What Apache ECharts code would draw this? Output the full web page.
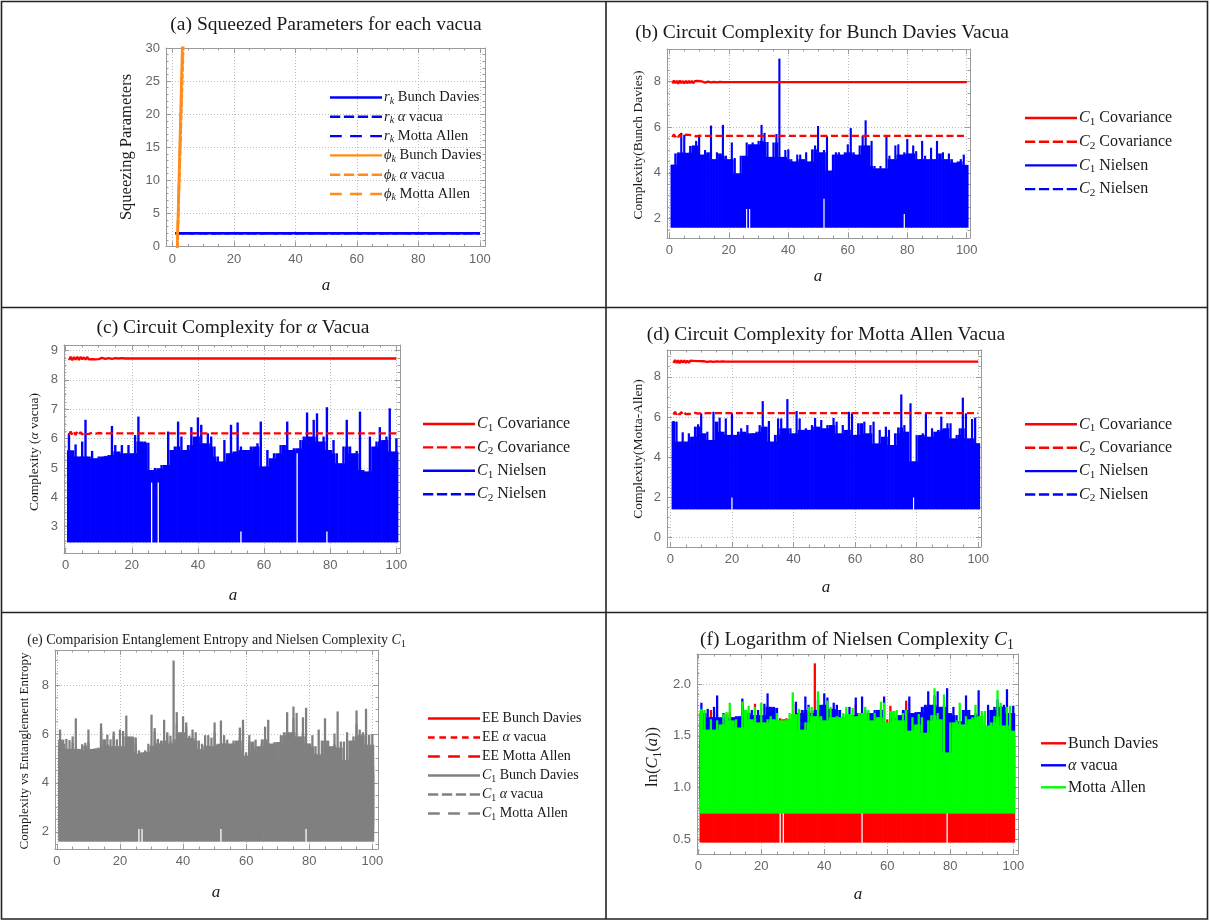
<!DOCTYPE html>
<html><head><meta charset="utf-8">
<script src="https://cdn.jsdelivr.net/npm/echarts@6/dist/echarts.min.js"></script>
<style>html,body{margin:0;padding:0;background:#fff}#c{width:1210px;height:921px}</style>
</head><body><div id="c"></div>
<script>
// ---------------- data ----------------
const aGrid = Array.from({length: 100}, (_, i) => i + 1);   // a = 1..100

// (a) squeezing parameters
const rkA = [1, 25, 50, 75, 100];
const rkBD = [2.0, 2.0, 2.0, 2.0, 2.0];
const rkAV = [2.0, 2.0, 2.0, 2.0, 2.0];
const rkMA = [2.0, 2.0, 2.0, 2.0, 2.0];
const phiA = [1, 2, 3, 4];
const phiBD = [-10.3, 8.1, 26.5, 44.9];
const phiAV = [-9.5, 6.3, 22.1, 37.9];
const phiMA = [-9.9, 7.0, 23.9, 40.8];

// covariance complexities (noisy for small a, then flat)
const covA1 = [1,1.5,2,2.5,3,3.5,4,4.5,5,5.5,6,6.5,7,7.5,8,8.5,9,9.5,10,11,12,13,14,15,16,17,18,19,20,100];
const covA2 = [1,1.5,2,2.5,3,3.5,4,4.5,5,5.5,6,6.5,7,8,9,10,11,12,100];
const bdC1Cov = [7.91,8.04,7.92,8.03,7.9,8.04,7.93,8.02,7.91,8.03,7.92,8.02,7.93,8.03,7.92,8.01,7.93,8.02,7.94,8.0,7.95,7.99,7.96,7.98,7.96,7.98,7.97,7.97,7.97,7.97];
const bdC2Cov = [5.57,5.68,5.58,5.67,5.56,5.68,5.59,5.66,5.57,5.67,5.59,5.66,5.6,5.64,5.6,5.63,5.61,5.62,5.62];
const avC1Cov = [8.68,8.79,8.67,8.78,8.69,8.79,8.68,8.78,8.7,8.77,8.69,8.78,8.7,8.76,8.71,8.76,8.7,8.75,8.71,8.75,8.72,8.74,8.72,8.74,8.73,8.74,8.73,8.73,8.73,8.73];
const avC2Cov = [6.13,6.24,6.14,6.23,6.12,6.24,6.15,6.22,6.14,6.22,6.15,6.21,6.16,6.2,6.17,6.19,6.18,6.18,6.18];
const maC1Cov = [8.68,8.83,8.69,8.82,8.67,8.82,8.7,8.81,8.69,8.8,8.7,8.8,8.71,8.79,8.72,8.78,8.72,8.78,8.73,8.77,8.74,8.76,8.74,8.76,8.75,8.76,8.75,8.75,8.75,8.75];
const maC2Cov = [6.12,6.26,6.13,6.25,6.12,6.25,6.14,6.24,6.14,6.23,6.15,6.22,6.16,6.21,6.17,6.2,6.18,6.19,6.19];

// Nielsen C1: upper envelope of the fast oscillation at each a
const bdUpper = [4.36,4.85,4.9,5.75,5.66,4.88,5.18,5.2,5.4,5.66,
 4.8,5.0,4.9,6.07,4.6,4.9,4.85,6.1,4.75,4.6,
 5.33,4.65,3.98,4.75,4.75,5.33,5.25,5.33,5.25,5.4,
 6.1,5.75,5.35,4.7,5.33,5.7,9.0,4.7,5.0,5.03,
 4.6,4.5,4.8,4.8,4.6,4.9,4.5,5.03,5.2,6.05,
 4.9,5.0,5.6,4.1,4.8,4.9,4.9,4.8,4.9,5.25,
 5.96,4.9,4.8,5.2,5.63,6.3,5.2,5.4,4.3,4.2,
 4.3,4.2,5.63,4.75,4.6,5.2,5.25,4.8,4.9,5.48,
 4.85,5.2,4.95,4.6,5.4,4.75,4.6,5.1,4.6,5.4,
 4.85,4.9,4.6,4.85,4.6,4.45,4.5,4.6,4.8,4.35];
const avUpper = [6.18,5.6,5.8,5.39,5.9,6.64,5.39,5.58,5.33,5.39,
 5.39,5.41,5.44,6.43,5.78,5.56,5.78,5.5,5.78,5.5,
 6.12,6.75,5.9,5.9,5.86,4.93,5.0,4.99,5.1,5.1,
 6.24,5.61,5.73,6.58,6.07,5.61,5.78,6.39,6.07,6.72,
 6.47,5.84,6.18,6.07,5.73,5.39,5.22,5.95,5.5,6.47,
 5.56,6.55,5.73,5.61,5.61,5.73,5.73,5.84,6.58,5.05,
 5.61,5.33,5.5,5.5,5.78,5.78,6.58,5.61,5.67,5.67,
 5.95,6.07,6.89,6.07,6.64,6.86,5.9,6.07,7.07,5.61,
 5.95,5.5,5.16,5.73,6.64,5.73,5.5,5.58,6.92,4.93,
 4.88,6.07,5.73,5.9,6.39,5.95,6.07,7.03,5.56,6.0];
const maUpper = [5.8,5.77,4.78,5.24,4.78,5.19,5.02,5.52,5.64,6.18,
 5.19,5.27,4.86,6.26,5.77,5.97,5.27,5.93,5.11,6.18,
 5.11,5.27,5.44,5.27,5.6,5.19,5.2,5.27,5.6,6.79,
 5.52,5.8,4.78,5.11,5.93,5.93,5.44,6.89,5.44,5.19,
 6.3,5.93,5.36,5.44,5.36,5.6,5.95,5.52,5.85,5.44,
 5.6,5.6,5.95,5.77,5.19,5.6,5.36,6.26,6.18,5.11,
 5.69,5.69,5.77,5.19,5.6,5.77,4.69,5.36,5.02,5.52,
 5.36,4.61,5.19,5.48,7.12,5.6,5.27,6.68,3.8,5.1,
 5.11,5.19,6.18,5.02,5.44,5.27,5.36,6.02,5.44,5.69,
 5.69,4.94,5.11,5.44,6.96,6.18,4.94,5.9,5.97,4.7];
// lower envelope: floor value plus the places where a thin white gap rises from it
const bdFloor = 1.6,  bdGaps = {26: 2.42, 27: 2.42, 52: 2.87, 79: 2.2};
const avFloor = 2.46, avGaps = {26: 4.5, 28: 4.5, 53: 2.83, 70: 5.5, 79: 2.83};
const maFloor = 1.41, maGaps = {20: 2.0, 79: 2.0};
const maFloorEF = 2.12;

// (f) ln C1
const bdLn = [1.47,1.58,1.59,1.75,1.73,1.59,1.65,1.65,1.69,1.73,
 1.57,1.61,1.59,1.80,1.53,1.59,1.58,1.81,1.56,1.53,
 1.67,1.54,1.38,1.56,1.56,1.67,1.66,1.67,1.66,1.69,
 1.81,1.75,1.68,1.55,1.67,1.74,2.20,1.55,1.61,1.62,
 1.53,1.50,1.57,1.57,1.53,1.59,1.50,1.62,1.65,1.80,
 1.59,1.61,1.72,1.41,1.57,1.59,1.59,1.57,1.59,1.66,
 1.79,1.59,1.57,1.65,1.73,1.84,1.65,1.69,1.46,1.44,
 1.46,1.44,1.73,1.56,1.53,1.65,1.66,1.57,1.59,1.70,
 1.58,1.65,1.60,1.53,1.69,1.56,1.53,1.63,1.53,1.69,
 1.58,1.59,1.53,1.58,1.53,1.49,1.50,1.53,1.57,1.47];
const avLn = [1.82,1.72,1.76,1.68,1.78,1.89,1.68,1.72,1.67,1.68,
 1.68,1.69,1.69,1.86,1.75,1.72,1.75,1.70,1.75,1.70,
 1.81,1.91,1.78,1.78,1.77,1.60,1.61,1.61,1.63,1.63,
 1.83,1.72,1.75,1.88,1.80,1.72,1.75,1.85,1.80,1.91,
 1.87,1.76,1.82,1.80,1.75,1.68,1.65,1.78,1.70,1.87,
 1.72,1.88,1.75,1.72,1.72,1.75,1.75,1.76,1.88,1.62,
 1.72,1.67,1.70,1.70,1.75,1.75,1.88,1.72,1.73,1.73,
 1.78,1.80,1.93,1.80,1.89,1.93,1.78,1.80,1.96,1.72,
 1.78,1.70,1.64,1.75,1.89,1.75,1.70,1.72,1.94,1.60,
 1.58,1.80,1.75,1.78,1.85,1.78,1.80,1.95,1.72,1.79];
const maLn = [1.76,1.75,1.56,1.66,1.56,1.65,1.61,1.71,1.73,1.82,
 1.65,1.66,1.58,1.83,1.75,1.79,1.66,1.78,1.63,1.82,
 1.63,1.66,1.69,1.66,1.72,1.65,1.65,1.66,1.72,1.92,
 1.71,1.76,1.56,1.63,1.78,1.78,1.69,1.93,1.69,1.65,
 1.84,1.78,1.68,1.69,1.68,1.72,1.78,1.71,1.77,1.69,
 1.72,1.72,1.78,1.75,1.65,1.72,1.68,1.83,1.82,1.63,
 1.74,1.74,1.75,1.65,1.72,1.75,1.55,1.68,1.61,1.71,
 1.68,1.53,1.65,1.70,1.96,1.72,1.66,1.90,1.34,1.63,
 1.63,1.65,1.82,1.61,1.69,1.66,1.68,1.80,1.69,1.74,
 1.74,1.60,1.63,1.69,1.94,1.82,1.60,1.78,1.79,1.55];
const bdLnFloor = 0.47, bdLnGaps = {26: 0.88, 27: 0.88, 52: 1.05, 79: 0.79};
const avLnFloor = 0.90, avLnGaps = {};
const maLnFloor = 0.75, maLnGaps = {};

// ---------------- styling / building ----------------
const SERIF = '"Liberation Serif","DejaVu Serif",serif';
const SANS = '"Liberation Sans","DejaVu Sans",sans-serif';
const BLUE = '#0000ff', RED = '#ff0000', GREEN = '#00ff00', GRAY = '#808080', ORANGE = '#ff8c1a';

function pairs(xs, ys) { return xs.map((x, i) => [x, ys[i]]); }

function richFor(fs, lh) {
  const sfs = Math.round(fs * 0.7 * 10) / 10, slh = Math.round(lh * 0.62);
  return {
    i: {fontFamily: SERIF, fontSize: fs, fontStyle: 'italic', lineHeight: lh},
    s: {fontFamily: SERIF, fontSize: sfs, lineHeight: slh, verticalAlign: 'bottom'},
    si: {fontFamily: SERIF, fontSize: sfs, fontStyle: 'italic', lineHeight: slh, verticalAlign: 'bottom'}
  };
}

const grids = [
  {left: 166, top: 48, width: 319, height: 198.5},
  {left: 667, top: 49, width: 303, height: 189},
  {left: 64, top: 345, width: 336, height: 208},
  {left: 667, top: 350, width: 314, height: 197},
  {left: 55, top: 650, width: 323, height: 199},
  {left: 697, top: 654, width: 321, height: 200}
];
const xRanges = [[-2.1, 101.7], [-0.8, 101.1], [-0.5, 101.1], [-1.1, 100.9], [-0.6, 101.8], [-0.4, 101.5]];
const yRanges = [[0, 30], [1.15, 9.42], [2.1, 9.19], [-0.46, 9.33], [1.3, 9.43], [0.36, 2.29]];
const ySplit = [6, 5, 5, 5, 5, 4];
const yMinor = [5, 4, 4, 4, 4, 5];

const xAxes = [], yAxes = [];
grids.forEach((g, gi) => {
  const mk = (pos, mn, mx, split, minor, showLab, ends, fmt) => ({
    type: 'value', gridIndex: gi, position: pos, min: mn, max: mx, splitNumber: split,
    axisLine: {show: true, onZero: false, lineStyle: {color: '#9a9a9a', width: 1}},
    axisTick: {show: true, inside: true, length: 5, lineStyle: {color: '#9a9a9a', width: 1}},
    minorTick: {show: true, splitNumber: minor, length: 2.5, lineStyle: {color: '#9a9a9a', width: 1}},
    axisLabel: {show: showLab, color: '#666', fontFamily: SANS, fontSize: 13, margin: 6,
      showMinLabel: ends, showMaxLabel: ends, formatter: fmt},
    splitLine: {show: showLab, lineStyle: {color: '#bcbcbc', type: [1, 2], width: 1}}
  });
  const xr = xRanges[gi], yr = yRanges[gi];
  const yEnds = gi === 0;
  const yFmt = gi === 5 ? (v => v.toFixed(1)) : undefined;
  xAxes.push(mk('bottom', xr[0], xr[1], 5, 4, true, false));
  xAxes.push(mk('top', xr[0], xr[1], 5, 4, false, false));
  yAxes.push(mk('left', yr[0], yr[1], ySplit[gi], yMinor[gi], true, yEnds, yFmt));
  yAxes.push(mk('right', yr[0], yr[1], ySplit[gi], yMinor[gi], false, yEnds));
});

function line(name, gi, xs, ys, color, dash, width) {
  return {type: 'line', name, xAxisIndex: 2 * gi, yAxisIndex: 2 * gi, data: pairs(xs, ys),
    symbol: 'none', showSymbol: false, clip: true, animation: false,
    itemStyle: {color}, lineStyle: {color, width: width || 2.3, type: dash || 'solid'}};
}
// band of a fast oscillation: solid body from the floor, narrow spikes at the peaks,
// thin white gaps where the floor lifts
function band(name, gi, floor, gaps, highs, color) {
  const data = aGrid.map((a, i) => {
    const base = Math.min(highs[i], highs[Math.max(0, i - 1)], highs[Math.min(highs.length - 1, i + 1)]);
    return [a, floor, highs[i], base, gaps[a] !== undefined ? gaps[a] : floor];
  });
  return {type: 'custom', name, xAxisIndex: 2 * gi, yAxisIndex: 2 * gi, clip: true, animation: false,
    data, encode: {x: 0, y: [1, 2]}, itemStyle: {color},
    renderItem(params, api) {
      const a = api.value(0), fl = api.value(1), hi = api.value(2), base = api.value(3), lo = api.value(4);
      const ch = [];
      const b0 = api.coord([a - 0.5, base]), b1 = api.coord([a + 0.5, fl]);
      ch.push({type: 'rect', shape: {x: b0[0] - 0.35, y: b0[1], width: b1[0] - b0[0] + 0.7, height: b1[1] - b0[1]}, style: {fill: color}});
      if (hi > base) {
        const s0 = api.coord([a - 0.36, hi]), s1 = api.coord([a + 0.36, base]);
        ch.push({type: 'rect', shape: {x: s0[0], y: s0[1], width: s1[0] - s0[0], height: s1[1] - s0[1] + 0.5}, style: {fill: color}});
      }
      if (lo > fl) {
        const w0 = api.coord([a - 0.2, lo]), w1 = api.coord([a + 0.2, fl]);
        ch.push({type: 'rect', shape: {x: w0[0], y: w0[1], width: w1[0] - w0[0], height: w1[1] - w0[1] + 1}, style: {fill: '#fff'}});
      }
      return {type: 'group', children: ch};
    }};
}
function empty(name, gi, color, dash) {
  return {type: 'line', name, xAxisIndex: 2 * gi, yAxisIndex: 2 * gi, data: [], symbol: 'none',
    itemStyle: {color}, lineStyle: {color, width: 2.3, type: dash}};
}

const series = [
  // (a)
  line('rk Bunch Davies', 0, rkA, rkBD, BLUE, 'solid', 2.6),
  line('rk α vacua', 0, rkA, rkAV, BLUE, [5, 2], 2.6),
  line('rk Motta Allen', 0, rkA, rkMA, BLUE, [8, 4], 2.6),
  line('ϕk Bunch Davies', 0, phiA, phiBD, ORANGE, 'solid', 2.6),
  line('ϕk α vacua', 0, phiA, phiAV, ORANGE, [5, 2], 2.6),
  line('ϕk Motta Allen', 0, phiA, phiMA, ORANGE, [8, 4], 2.6),
  // (b)
  line('C1 Covariance', 1, covA1, bdC1Cov, RED),
  line('C2 Covariance', 1, covA2, bdC2Cov, RED, [7, 3.5]),
  band('C1 Nielsen', 1, bdFloor, bdGaps, bdUpper, BLUE),
  empty('C2 Nielsen', 1, BLUE, [7, 3.5]),
  // (c)
  line('C1 Covariance', 2, covA1, avC1Cov, RED),
  line('C2 Covariance', 2, covA2, avC2Cov, RED, [7, 3.5]),
  band('C1 Nielsen', 2, avFloor, avGaps, avUpper, BLUE),
  empty('C2 Nielsen', 2, BLUE, [7, 3.5]),
  // (d)
  line('C1 Covariance', 3, covA1, maC1Cov, RED),
  line('C2 Covariance', 3, covA2, maC2Cov, RED, [7, 3.5]),
  band('C1 Nielsen', 3, maFloor, maGaps, maUpper, BLUE),
  empty('C2 Nielsen', 3, BLUE, [7, 3.5]),
  // (e)
  empty('EE Bunch Davies', 4, RED, 'solid'),
  empty('EE α vacua', 4, RED, [4, 2]),
  empty('EE Motta Allen', 4, RED, [8, 4]),
  band('C1 Bunch Davies', 4, bdFloor, bdGaps, bdUpper, GRAY),
  band('C1 α vacua', 4, avFloor, avGaps, avUpper, GRAY),
  band('C1 Motta Allen', 4, maFloorEF, {}, maUpper, GRAY),
  // (f)
  band('Bunch Davies', 5, bdLnFloor, bdLnGaps, bdLn, RED),
  band('α vacua', 5, avLnFloor, avLnGaps, avLn, BLUE),
  band('Motta Allen', 5, maLnFloor, maLnGaps, maLn, GREEN)
];

const LBL = {
  'rk Bunch Davies': '{i|r}{si|k} Bunch Davies', 'rk α vacua': '{i|r}{si|k} {i|α} vacua', 'rk Motta Allen': '{i|r}{si|k} Motta Allen',
  'ϕk Bunch Davies': '{i|ϕ}{si|k} Bunch Davies', 'ϕk α vacua': '{i|ϕ}{si|k} {i|α} vacua', 'ϕk Motta Allen': '{i|ϕ}{si|k} Motta Allen',
  'C1 Covariance': '{i|C}{s|1} Covariance', 'C2 Covariance': '{i|C}{s|2} Covariance',
  'C1 Nielsen': '{i|C}{s|1} Nielsen', 'C2 Nielsen': '{i|C}{s|2} Nielsen',
  'EE Bunch Davies': 'EE Bunch Davies', 'EE α vacua': 'EE {i|α} vacua', 'EE Motta Allen': 'EE Motta Allen',
  'C1 Bunch Davies': '{i|C}{s|1} Bunch Davies', 'C1 α vacua': '{i|C}{s|1} {i|α} vacua', 'C1 Motta Allen': '{i|C}{s|1} Motta Allen',
  'Bunch Davies': 'Bunch Davies', 'α vacua': '{i|α} vacua', 'Motta Allen': 'Motta Allen'
};
function solidIcon(w) { return `path://M0,0H${w}V2.4H0Z`; }
function dashIcon(w, n, gf) {
  const g = w * gf, d = (w - g * (n - 1)) / n; let p = '';
  for (let i = 0; i < n; i++) { const x = i * (d + g); p += `M${x.toFixed(2)},0H${(x + d).toFixed(2)}V2.4H${x.toFixed(2)}Z`; }
  return 'path://' + p;
}
function legend(names, icons, left, top, iw, fs, lh, gap) {
  return {orient: 'vertical', left, top, itemWidth: iw, itemHeight: 8, itemGap: gap, padding: 0,
    selectedMode: false, symbolKeepAspect: true,
    data: names.map((n, i) => ({name: n, icon: icons[i]})),
    formatter: n => LBL[n],
    itemStyle: {borderWidth: 0}, lineStyle: {width: 0},
    textStyle: {fontFamily: SERIF, fontSize: fs, color: '#1a1a1a', lineHeight: lh, padding: [0, 0, 0, -3], rich: richFor(fs, lh)}};
}
const S52 = solidIcon(52), D4 = dashIcon(52, 4, 0.07), D3 = dashIcon(52, 3, 0.16), D5 = dashIcon(52, 5, 0.09);
const legends = [
  legend(['rk Bunch Davies', 'rk α vacua', 'rk Motta Allen', 'ϕk Bunch Davies', 'ϕk α vacua', 'ϕk Motta Allen'],
    [S52, D4, D3, S52, D4, D3], 330, 89, 52, 14.5, 17, 2.3),
  legend(['C1 Covariance', 'C2 Covariance', 'C1 Nielsen', 'C2 Nielsen'], [S52, D4, S52, D4], 1025, 108.5, 52, 16, 19, 4.7),
  legend(['C1 Covariance', 'C2 Covariance', 'C1 Nielsen', 'C2 Nielsen'], [S52, D4, S52, D4], 423, 414.5, 52, 16, 19, 4.4),
  legend(['C1 Covariance', 'C2 Covariance', 'C1 Nielsen', 'C2 Nielsen'], [S52, D4, S52, D4], 1025, 414.8, 52, 16, 19, 4.4),
  legend(['EE Bunch Davies', 'EE α vacua', 'EE Motta Allen', 'C1 Bunch Davies', 'C1 α vacua', 'C1 Motta Allen'],
    [S52, D5, D3, S52, D4, D3], 428, 710, 52, 14, 17, 2),
  legend(['Bunch Davies', 'α vacua', 'Motta Allen'], [solidIcon(25), solidIcon(25), solidIcon(25)], 1041, 733.8, 25, 16, 19, 3)
];

function txt(x, y, text, fs, rot, italic) {
  const lh = Math.round(fs * 1.25);
  return {type: 'text', x, y, rotation: rot || 0, silent: true, z: 100,
    style: {text, fontFamily: SERIF, fontSize: fs, fontStyle: italic ? 'italic' : 'normal', fill: '#1a1a1a',
      align: 'center', verticalAlign: 'middle', lineHeight: lh, rich: richFor(fs, lh)}};
}
const R = Math.PI / 2;
const graphic = [
  txt(326, 25, '(a) Squeezed Parameters for each vacua', 19.5),
  txt(822, 33, '(b) Circuit Complexity for Bunch Davies Vacua', 19.5),
  txt(233, 328, '(c) Circuit Complexity for {i|α} Vacua', 19.5),
  txt(826, 335, '(d) Circuit Complexity for Motta Allen Vacua', 19.5),
  txt(216.5, 640, '(e) Comparision Entanglement Entropy and Nielsen Complexity {i|C}{s|1}', 14),
  txt(857, 640, '(f) Logarithm of Nielsen Complexity {i|C}{s|1}', 19.5),
  txt(127, 147, 'Squeezing Parameters', 16.5, R),
  txt(638, 145, 'Complexity(Bunch Davies)', 13.5, R),
  txt(34, 452, 'Complexity ({i|α} vacua)', 13.5, R),
  txt(638, 449, 'Complexity(Motta-Allen)', 13.5, R),
  txt(25, 751, 'Complexity vs Entanglement Entropy', 13, R),
  txt(653, 757, 'ln({i|C}{s|1}({i|a}))', 16.5, R),
  txt(326, 286, 'a', 17, 0, true),
  txt(818, 277, 'a', 17, 0, true),
  txt(233, 596, 'a', 17, 0, true),
  txt(826, 588, 'a', 17, 0, true),
  txt(216, 893, 'a', 17, 0, true),
  txt(858, 895, 'a', 17, 0, true),
  {type: 'rect', silent: true, z: 100, shape: {x: 1.5, y: 1.5, width: 1206, height: 917.5}, style: {fill: 'none', stroke: '#222', lineWidth: 1.6}},
  {type: 'line', silent: true, z: 100, shape: {x1: 606, y1: 1, x2: 606, y2: 919}, style: {stroke: '#222', lineWidth: 1.6}},
  {type: 'line', silent: true, z: 100, shape: {x1: 1, y1: 307.5, x2: 1208, y2: 307.5}, style: {stroke: '#222', lineWidth: 1.6}},
  {type: 'line', silent: true, z: 100, shape: {x1: 1, y1: 612.5, x2: 1208, y2: 612.5}, style: {stroke: '#222', lineWidth: 1.6}}
];

const chart = echarts.init(document.getElementById('c'), null, {renderer: 'canvas'});
chart.setOption({
  animation: false,
  backgroundColor: '#fff',
  grid: grids.map(g => Object.assign({containLabel: false, outerBoundsMode: 'none'}, g)),
  xAxis: xAxes, yAxis: yAxes,
  legend: legends,
  series,
  graphic
});
</script></body></html>
